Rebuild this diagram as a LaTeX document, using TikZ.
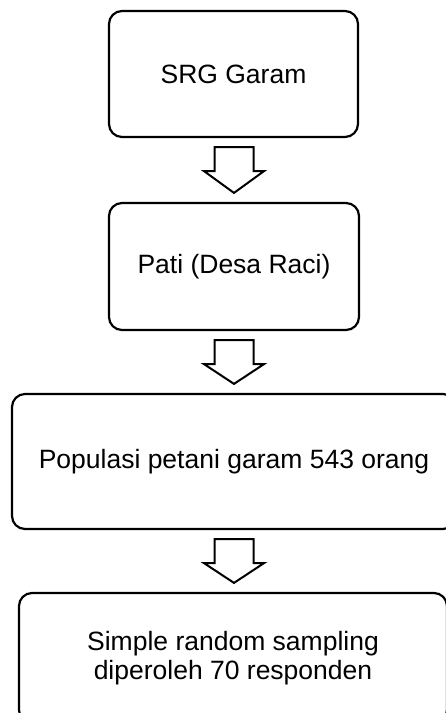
\documentclass[tikz,border=0pt]{standalone}
\usepackage{fontspec}
\setmainfont{Liberation Sans}
\usetikzlibrary{calc}
\newcommand\blockarr[2]{%
  \draw[flow] ($(#1.south -| ax)+(-19.5,9)$) -- ($(#1.south -| ax)+(19.5,9)$)
    -- ($(#1.south -| ax)+(19.5,33)$) -- ($(#1.south -| ax)+(30,33)$)
    -- ($(#2.north -| ax)+(0,-9)$)
    -- ($(#1.south -| ax)+(-30,33)$) -- ($(#1.south -| ax)+(-19.5,33)$) -- cycle;}
\begin{document}
\begin{tikzpicture}[x=1pt,y=-1pt,
  box/.style={draw, line width=2.2pt, rounded corners=13pt, align=center,
    font=\fontsize{26.5}{28.3}\selectfont, inner sep=0pt},
  flow/.style={draw, line width=2pt, line join=miter, fill=white}]
\useasboundingbox (0,0) rectangle (446,713);
\clip (0,0) rectangle (446,713);
\coordinate (ax) at (234,0);
\node[box, minimum width=249, minimum height=126] (b1) at (233.5,74) {SRG Garam};
\node[box, minimum width=250, minimum height=127] (b2) at (234,266.5) {Pati (Desa Raci)};
\node[box, minimum width=444, minimum height=135] (b3) at (234,461.5) {Populasi petani garam 543 orang};
\node[box, minimum width=428, minimum height=130] (b4) at (233,658) {Simple random sampling\\diperoleh 70 responden};
\blockarr{b1}{b2}
\blockarr{b2}{b3}
\blockarr{b3}{b4}
\end{tikzpicture}
\end{document}
